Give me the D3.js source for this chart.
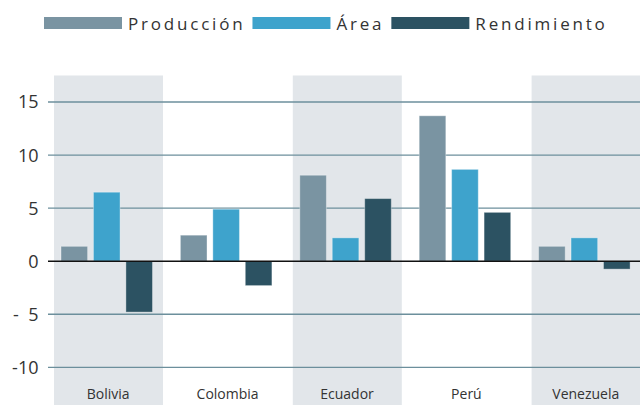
<!DOCTYPE html>
<html>
<head>
<meta charset="utf-8">
<script src="https://cdn.jsdelivr.net/npm/d3@7"></script>
<style>
  html, body { margin: 0; padding: 0; background: #fff; }
  svg { display: block; }
  text { font-family: "Open Sans", sans-serif; }
</style>
</head>
<body>
<svg id="chart" width="640" height="405"></svg>
<script>
const categories = ["Bolivia", "Colombia", "Ecuador", "Perú", "Venezuela"];
const seriesNames = ["Producción", "Área", "Rendimiento"];
const produccion = [1.4, 2.45, 8.1, 13.7, 1.4];
const area = [6.5, 4.9, 2.2, 8.65, 2.2];
const rendimiento = [-4.8, -2.3, 5.9, 4.6, -0.75];
const tickValues = [-10, -5, 0, 5, 10, 15];
const tickLabels = ["-10", "-  5", "0", "5", "10", "15"];
const colors = ["#7a94a2", "#3ea3cc", "#2c5262"];

const series = [produccion, area, rendimiento];
const svg = d3.select("#chart");

const x = d3.scaleBand().domain(categories).range([47.5, 644.5]).padding(0);
const step = x.step();
const xs = d3.scaleBand().domain(seriesNames).range([13.5, 105]).paddingInner(0.18).paddingOuter(0);
const y = d3.scaleLinear().domain([-10, 15]).range([367.3, 102]);

// shaded bands
svg.append("g").selectAll("rect")
  .data(categories.filter((c, i) => i % 2 === 0))
  .join("rect")
  .attr("x", d => x(d) + 6.5)
  .attr("width", 109)
  .attr("y", 75.5)
  .attr("height", 405 - 75.5)
  .attr("fill", "#e2e6ea");

// gridlines
svg.append("g").selectAll("line")
  .data(tickValues.filter(v => v !== 0))
  .join("line")
  .attr("x1", 48).attr("x2", 640)
  .attr("y1", d => y(d)).attr("y2", d => y(d))
  .attr("stroke", "#6c8f9c").attr("stroke-width", 1.3);

// bars
const groups = svg.append("g").selectAll("g")
  .data(categories)
  .join("g")
  .attr("transform", d => `translate(${x(d)},0)`);
groups.selectAll("rect")
  .data((c, i) => seriesNames.map((s, j) => ({ s, j, v: series[j][i] })))
  .join("rect")
  .attr("x", d => xs(d.s))
  .attr("width", xs.bandwidth())
  .attr("y", d => y(Math.max(0, d.v)))
  .attr("height", d => Math.abs(y(d.v) - y(0)))
  .attr("fill", d => colors[d.j])
  .attr("stroke", "rgba(255,255,255,0.35)")
  .attr("stroke-width", 1);

// zero line
svg.append("line")
  .attr("x1", 48).attr("x2", 640)
  .attr("y1", y(0)).attr("y2", y(0))
  .attr("stroke", "#111").attr("stroke-width", 1.4);

// y tick labels
svg.append("g").selectAll("text")
  .data(tickValues)
  .join("text")
  .attr("x", 38.5)
  .attr("y", d => y(d))
  .attr("dy", "0.36em")
  .attr("text-anchor", "end")
  .style("white-space", "pre")
  .attr("font-size", 18)
  .attr("fill", "#333")
  .text((d, i) => tickLabels[i]);

// category labels
svg.append("g").selectAll("text")
  .data(categories)
  .join("text")
  .attr("x", d => x(d) + step / 2 + 1)
  .attr("y", 399)
  .attr("text-anchor", "middle")
  .attr("font-size", 14)
  .attr("fill", "#333")
  .text(d => d);

// legend
const legend = svg.append("g");
let lx = 44;
seriesNames.forEach((name, i) => {
  legend.append("rect")
    .attr("x", lx).attr("y", 17).attr("width", 78).attr("height", 12)
    .attr("fill", colors[i]);
  const t = legend.append("text")
    .attr("x", lx + 84).attr("y", 29.5)
    .attr("font-size", 17)
    .attr("letter-spacing", "2.8px")
    .attr("fill", "#333")
    .text(name);
  lx = lx + 84 + t.node().getComputedTextLength() + 7;
});
</script>
</body>
</html>
